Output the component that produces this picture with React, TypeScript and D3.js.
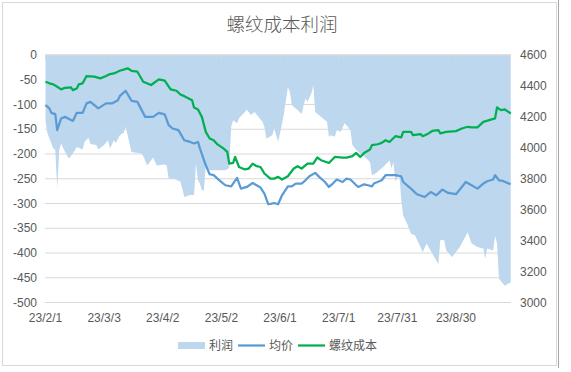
import * as d3 from "d3";

// 利润 (left axis)
const profitDates = [
  "2/1", "2/2", "2/4", "2/5", "2/6", "2/7", "2/8", "2/9", "2/11", "2/13",
  "2/15", "2/17", "2/20", "2/21", "2/23", "2/24", "2/27", "2/28", "3/3", "3/5",
  "3/6", "3/8", "3/9", "3/11", "3/13", "3/14", "3/16", "3/17", "3/22", "3/23",
  "3/25", "3/27", "3/28", "3/30", "4/3", "4/4", "4/5", "4/8", "4/11", "4/12",
  "4/13", "4/16", "4/18", "4/19", "4/20", "4/21", "4/22", "4/23", "4/24", "4/26",
  "4/28", "5/4", "5/6", "5/7", "5/8", "5/10", "5/11", "5/14", "5/15", "5/17",
  "5/19", "5/21", "5/23", "5/24", "5/25", "5/28", "5/29", "5/31", "6/1", "6/3",
  "6/5", "6/6", "6/7", "6/9", "6/10", "6/12", "6/13", "6/14", "6/15", "6/17",
  "6/18", "6/19", "6/22", "6/25", "6/26", "6/27", "6/29", "6/30", "7/2", "7/4",
  "7/5", "7/7", "7/8", "7/10", "7/12", "7/15", "7/17", "7/18", "7/20", "7/24",
  "7/27", "7/28", "7/29", "7/30", "8/1", "8/2", "8/3", "8/5", "8/7", "8/9",
  "8/11", "8/13", "8/15", "8/17", "8/21", "8/22", "8/24", "8/25", "8/28", "9/1",
  "9/5", "9/7", "9/10", "9/13", "9/14", "9/15", "9/18", "9/19", "9/20", "9/21",
  "9/24", "9/27",
];
const profitValues = [
  -135, -158, -179, -189, -192, -269, -192, -179, -196, -209,
  -199, -186, -191, -175, -167, -180, -182, -191, -182, -172,
  -189, -172, -178, -162, -157, -145, -179, -196, -199, -204,
  -223, -213, -207, -223, -221, -223, -250, -250, -256, -270,
  -287, -283, -283, -219, -253, -260, -273, -273, -223, -233,
  -233, -233, -229, -145, -132, -138, -128, -115, -110, -121,
  -115, -125, -135, -145, -169, -162, -148, -175, -158, -118,
  -65, -74, -101, -108, -111, -119, -103, -88, -95, -78,
  -61, -115, -125, -135, -165, -162, -165, -152, -155, -138,
  -142, -152, -182, -192, -199, -208, -216, -243, -239, -225,
  -213, -229, -216, -256, -239, -293, -324, -341, -361, -364,
  -381, -398, -381, -395, -422, -373, -374, -395, -408, -388,
  -358, -381, -388, -391, -411, -391, -395, -366, -381, -452,
  -466, -459,
];

// 均价 (right axis)
const priceDates = [
  "2/1", "2/3", "2/4", "2/6", "2/7", "2/9", "2/11", "2/15", "2/17", "2/20",
  "2/22", "2/24", "2/28", "3/4", "3/7", "3/10", "3/11", "3/14", "3/17", "3/20",
  "3/24", "3/28", "3/31", "4/3", "4/5", "4/7", "4/10", "4/12", "4/13", "4/16",
  "4/18", "4/20", "4/21", "4/24", "4/26", "4/28", "5/1", "5/4", "5/7", "5/8",
  "5/10", "5/12", "5/15", "5/18", "5/22", "5/24", "5/26", "5/29", "5/31", "6/2",
  "6/5", "6/7", "6/9", "6/12", "6/14", "6/16", "6/19", "6/21", "6/24", "6/26",
  "6/28", "6/30", "7/3", "7/5", "7/7", "7/10", "7/11", "7/14", "7/16", "7/18",
  "7/19", "7/23", "7/25", "7/30", "8/2", "8/3", "8/7", "8/10", "8/14", "8/17",
  "8/20", "8/23", "8/26", "8/30", "9/2", "9/4", "9/7", "9/10", "9/13", "9/15",
  "9/18", "9/19", "9/21", "9/23", "9/27",
];
const priceValues = [
  4276, 4255, 4226, 4218, 4114, 4190, 4200, 4174, 4226, 4226,
  4287, 4297, 4255, 4287, 4287, 4308, 4334, 4369, 4304, 4297,
  4200, 4200, 4226, 4216, 4147, 4125, 4114, 4071, 4049, 4038,
  4028, 4038, 3996, 3887, 3829, 3823, 3790, 3758, 3751, 3769,
  3805, 3736, 3747, 3773, 3743, 3704, 3635, 3643, 3635, 3693,
  3751, 3751, 3769, 3769, 3790, 3816, 3838, 3812, 3779, 3747,
  3769, 3795, 3779, 3801, 3795, 3758, 3747, 3764, 3758, 3751,
  3769, 3790, 3823, 3823, 3816, 3779, 3736, 3700, 3682, 3714,
  3693, 3730, 3708, 3700, 3747, 3779, 3758, 3736, 3769, 3784,
  3795, 3823, 3790, 3786, 3764,
];

// 螺纹成本 (right axis)
const costDates = [
  "2/1", "2/3", "2/5", "2/7", "2/9", "2/11", "2/14", "2/15", "2/17", "2/18",
  "2/20", "2/22", "2/26", "3/1", "3/4", "3/6", "3/8", "3/11", "3/15", "3/17",
  "3/20", "3/23", "3/27", "3/31", "4/3", "4/6", "4/9", "4/11", "4/13", "4/17",
  "4/18", "4/20", "4/22", "4/24", "4/26", "4/28", "4/30", "5/3", "5/5", "5/6",
  "5/8", "5/9", "5/11", "5/14", "5/16", "5/18", "5/20", "5/22", "5/24", "5/27",
  "5/29", "5/31", "6/2", "6/5", "6/8", "6/10", "6/12", "6/15", "6/18", "6/20",
  "6/22", "6/26", "6/29", "7/3", "7/5", "7/8", "7/10", "7/12", "7/14", "7/17",
  "7/18", "7/21", "7/23", "7/25", "7/27", "7/30", "8/2", "8/3", "8/7", "8/8",
  "8/12", "8/13", "8/16", "8/18", "8/21", "8/22", "8/25", "8/30", "9/2", "9/5",
  "9/7", "9/10", "9/13", "9/16", "9/19", "9/20", "9/22", "9/24", "9/27",
];
const costValues = [
  4427, 4417, 4410, 4395, 4378, 4388, 4391, 4373, 4384, 4410,
  4417, 4464, 4460, 4449, 4464, 4477, 4481, 4498, 4514, 4498,
  4492, 4427, 4406, 4443, 4434, 4378, 4369, 4345, 4334, 4308,
  4261, 4248, 4200, 4103, 4060, 4049, 4022, 3996, 3974, 3898,
  3902, 3941, 3876, 3860, 3866, 3898, 3881, 3876, 3834, 3801,
  3801, 3812, 3795, 3816, 3866, 3881, 3866, 3898, 3898, 3937,
  3920, 3902, 3941, 3937, 3937, 3946, 3967, 3941, 3967, 3989,
  4017, 4023, 4032, 4049, 4038, 4075, 4067, 4103, 4103, 4082,
  4088, 4075, 4093, 4110, 4114, 4093, 4103, 4108, 4125, 4136,
  4132, 4132, 4168, 4179, 4190, 4261, 4244, 4248, 4222,
];

const xTickLabels = ["23/2/1", "23/3/3", "23/4/2", "23/5/2", "23/6/1", "23/7/1", "23/7/31", "23/8/30"];
const leftTicks = [0, -50, -100, -150, -200, -250, -300, -350, -400, -450, -500];
const rightTicks = [4600, 4400, 4200, 4000, 3800, 3600, 3400, 3200, 3000];

const W = 571;
const H = 372;
const FONT = "'Liberation Sans', Arial, 'Noto Sans CJK SC', sans-serif";
const CJK = "'Noto Sans CJK SC', 'Liberation Sans', sans-serif";

const md = (s: string) => {
  const [m, d] = s.split("/").map(Number);
  return new Date(2023, m - 1, d);
};
const ymd = (s: string) => {
  const [y, m, d] = s.split("/").map(Number);
  return new Date(2000 + y, m - 1, d);
};

export default function App() {
  const x = d3.scaleTime().domain([md("2/1"), md("9/27")]).range([45.5, 510.7]);
  const yL = d3.scaleLinear().domain([-500, 0]).range([302.5, 55]);
  const yR = d3.scaleLinear().domain([3000, 4600]).range([302.5, 55]);

  const profit = profitDates.map((d, i) => ({ date: md(d), v: profitValues[i] }));
  const price = priceDates.map((d, i) => ({ date: md(d), v: priceValues[i] }));
  const cost = costDates.map((d, i) => ({ date: md(d), v: costValues[i] }));

  const area = d3
    .area<{ date: Date; v: number }>()
    .x((d) => x(d.date))
    .y0(yL(0))
    .y1((d) => yL(d.v));
  const line = d3
    .line<{ date: Date; v: number }>()
    .x((d) => x(d.date))
    .y((d) => yR(d.v));

  const x0 = 45;
  const x1 = 511;

  return (
    <svg
      width={W}
      height={H}
      style={{ position: "absolute", left: 0, top: 0, background: "#fff" }}
    >
      <rect x={2.5} y={2.5} width={554} height={363} fill="#fff" stroke="#d9d9d9" />
      <line x1={558.5} y1={0} x2={558.5} y2={368} stroke="#a6a6a6" />

      <text x={282} y={31} textAnchor="middle" fontFamily={CJK} fontSize={18.5} fill="#595959" fontWeight={300}>
        螺纹成本利润
      </text>

      {/* gridlines, under the area */}
      {leftTicks.map((t) => (
        <line key={t} x1={x0} x2={x1} y1={yL(t)} y2={yL(t)} stroke="#d9d9d9" strokeWidth={1} />
      ))}

      <path d={area(profit) ?? ""} fill="#bdd7ee" />

      {/* category axis sits at 0 (top) */}
      <line x1={x0} x2={x1} y1={yL(0)} y2={yL(0)} stroke="#d9d9d9" />
      {xTickLabels.map((l) => (
        <line key={l} x1={x(ymd(l))} x2={x(ymd(l))} y1={yL(0)} y2={yL(0) + 5} stroke="#d9d9d9" />
      ))}

      <path d={line(price) ?? ""} fill="none" stroke="#5b9bd5" strokeWidth={2.25} strokeLinejoin="round" />
      <path d={line(cost) ?? ""} fill="none" stroke="#00b050" strokeWidth={2.25} strokeLinejoin="round" />

      {leftTicks.map((t) => (
        <text key={t} x={37} y={yL(t)} dy="0.35em" textAnchor="end" fontFamily={FONT} fontSize={12} fill="#595959">
          {t}
        </text>
      ))}
      {rightTicks.map((t) => (
        <text key={t} x={520} y={yR(t)} dy="0.35em" textAnchor="start" fontFamily={FONT} fontSize={12} fill="#595959">
          {t}
        </text>
      ))}
      {xTickLabels.map((l) => (
        <text key={l} x={x(ymd(l))} y={318} dy="0.35em" textAnchor="middle" fontFamily={FONT} fontSize={12} fill="#595959">
          {l}
        </text>
      ))}

      {/* legend */}
      <g fontFamily={CJK} fontSize={12} fill="#595959">
        <rect x={178} y={342} width={27} height={7} fill="#bdd7ee" />
        <text x={209} y={345.5} dy="0.35em">利润</text>
        <line x1={238} x2={265} y1={345.5} y2={345.5} stroke="#5b9bd5" strokeWidth={2.25} />
        <text x={269} y={345.5} dy="0.35em">均价</text>
        <line x1={298} x2={325} y1={345.5} y2={345.5} stroke="#00b050" strokeWidth={2.25} />
        <text x={329} y={345.5} dy="0.35em">螺纹成本</text>
      </g>
    </svg>
  );
}
